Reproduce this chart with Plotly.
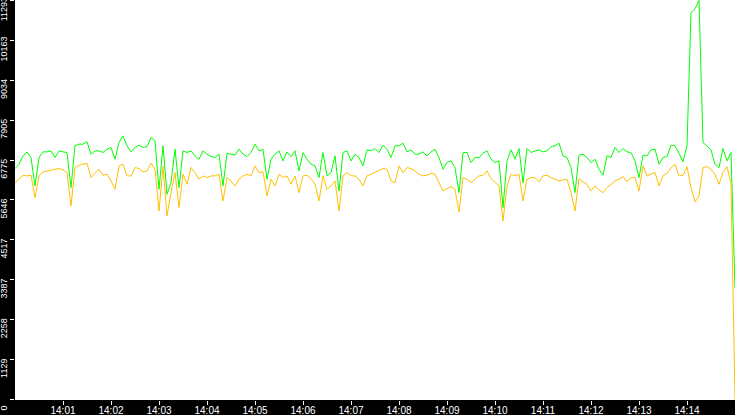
import plotly.graph_objects as go
import pandas as pd

# samples every 5 seconds from 14:00:00
start = "2024-01-01 14:00:00"

green = [
    6534, 6657, 6894, 7007, 6847, 6043, 6847, 7007, 7007, 7036,
    6847, 7036, 7007, 6988, 5995, 7178, 7225, 7225, 7291, 6941,
    7036, 7036, 6988, 7083, 7130, 6799, 7272, 7461, 7178, 7007,
    7130, 7196, 7130, 7159, 7414, 7319, 5948, 7178, 5806, 6137,
    7083, 5995, 7036, 6988, 7036, 6894, 6799, 7036, 6941, 6875,
    6847, 6941, 6043, 6970, 6941, 6913, 7083, 6941, 6875, 6988,
    7225, 7036, 7083, 6232, 6799, 6941, 7036, 6752, 7007, 6875,
    7036, 6468, 6988, 6799, 6657, 6610, 6279, 6988, 6327, 6421,
    6894, 5901, 6988, 7036, 6752, 6941, 6847, 6610, 7064, 7036,
    7102, 6988, 7196, 7083, 6847, 7178, 7178, 7253, 7007, 7064,
    6941, 6941, 7007, 6894, 7007, 7083, 6847, 6516, 6705, 6752,
    6563, 5854, 6988, 6988, 6705, 6847, 6847, 6970, 7036, 6799,
    6705, 6752, 5428, 6752, 7064, 6799, 7102, 6137, 7102, 6988,
    7036, 7064, 7007, 7036, 7159, 7178, 7253, 6894, 6847, 6563,
    5854, 6913, 6941, 6847, 6705, 6799, 6516, 6345, 6894, 6847,
    7130, 6988, 7102, 7007, 6988, 6752, 6279, 6913, 6894, 7064,
    7083, 6657, 6847, 6875, 7196, 7178, 6970, 6724, 7178, 10950,
    11060, 11293, 7272, 7178, 7064, 6657, 6563, 7102, 6752, 6988,
    3150,
]

orange = [
    6137, 6232, 6345, 6327, 6345, 5712, 6327, 6440, 6468, 6497,
    6516, 6534, 6497, 6421, 5475, 6563, 6629, 6657, 6686, 6279,
    6421, 6516, 6345, 6374, 6185, 5948, 6610, 6657, 6327, 6327,
    6563, 6534, 6440, 6468, 6686, 6516, 5333, 6591, 5192, 5854,
    6421, 5428, 6374, 6090, 6563, 6421, 6232, 6327, 6279, 6327,
    6327, 6374, 5617, 6279, 6185, 6043, 6232, 6327, 6374, 6327,
    6610, 6421, 6440, 5759, 6232, 6043, 6374, 6279, 6327, 6090,
    6327, 5854, 6327, 6345, 6251, 6090, 5617, 6327, 5948, 6043,
    6185, 5333, 6327, 6421, 6327, 6327, 6232, 6043, 6327, 6374,
    6421, 6468, 6534, 6516, 6185, 6137, 6610, 6421, 6563, 6534,
    6468, 6374, 6327, 6345, 6402, 6374, 6137, 5901, 5967, 6024,
    5948, 5305, 6279, 6232, 6137, 6232, 6327, 6345, 6468, 6251,
    6137, 6043, 5050, 6043, 6374, 6327, 6374, 5617, 6232, 6279,
    6279, 6156, 6327, 6345, 6279, 6232, 6185, 6213, 6232, 5854,
    5333, 6251, 6156, 6090, 5901, 6043, 5929, 5854, 5995, 6090,
    6185, 6232, 6308, 6156, 6279, 6279, 5901, 6610, 6327, 6374,
    6421, 6043, 6327, 6402, 6553, 6657, 6327, 6345, 6591, 5995,
    5589, 5759, 6563, 6591, 6516, 6374, 6090, 6421, 6591, 6118,
    0,
]

y_ticks = [0, 1129, 2258, 3387, 4517, 5646, 6775, 7905, 9034, 10163, 11293]
x_ticks = ["14:%02d" % m for m in range(1, 15)]

times = pd.date_range(start, periods=len(green), freq="5s")
tick_times = [pd.Timestamp("2024-01-01 " + t) for t in x_ticks]

fig = go.Figure()
fig.add_trace(go.Scatter(x=times, y=green, mode="lines",
                         line=dict(color="#00ff00", width=1)))
fig.add_trace(go.Scatter(x=times, y=orange, mode="lines",
                         line=dict(color="#ffc000", width=1)))

fig.update_layout(
    width=735, height=415,
    margin=dict(l=15, r=0, t=0, b=15),
    paper_bgcolor="black",
    plot_bgcolor="white",
    showlegend=False,
    font=dict(family="Liberation Sans", size=10, color="white"),
)
fig.update_xaxes(
    range=[pd.Timestamp(start), pd.Timestamp("2024-01-01 14:15:00")],
    tickvals=tick_times, ticktext=x_ticks,
    ticks="outside", ticklen=4, tickcolor="white",
    ticklabelstandoff=-3,
    showgrid=False, zeroline=False, showline=False, automargin=False,
)
fig.update_yaxes(
    range=[-15, 11305],
    tickvals=y_ticks, ticktext=[str(v) for v in y_ticks],
    tickangle=-90, tickfont=dict(size=9),
    ticklabelshift=10, ticklabelstandoff=-1,
    ticklabeloverflow="allow",
    ticks="outside", ticklen=4, tickcolor="white",
    showgrid=False, zeroline=False, showline=False, automargin=False,
)

fig.write_html("out.html", config={"displayModeBar": False},
               post_script="document.body.style.margin='0';")
